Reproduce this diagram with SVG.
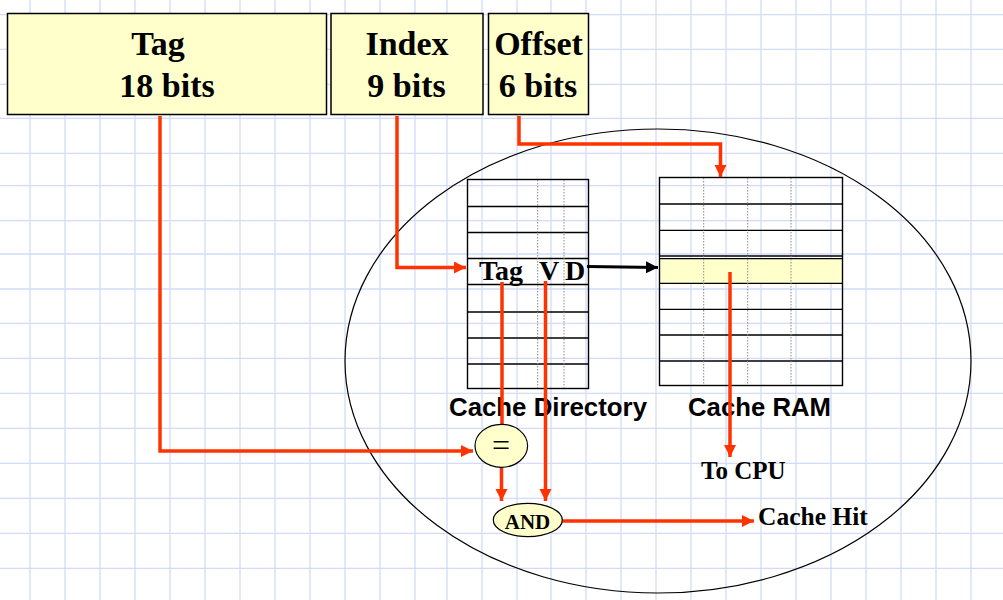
<svg xmlns="http://www.w3.org/2000/svg" width="1003" height="600" viewBox="0 0 1003 600">
<style>
.grid{stroke:#d3dcf6;stroke-width:1.3;fill:none}
.box{fill:#ffffcc;stroke:#000;stroke-width:1.5}
.big{font-family:"Liberation Serif","Times New Roman",serif;font-weight:bold;font-size:34px;text-anchor:middle;fill:#000}
.ser{font-family:"Liberation Serif","Times New Roman",serif;font-weight:bold;fill:#000}
.sans{font-family:"Liberation Sans",Arial,sans-serif;font-weight:bold;font-size:26px;fill:#000}
.tbl{fill:none;stroke:#000;stroke-width:1.4}
.row{stroke:#000;stroke-width:1.3}
.dot{stroke:#888;stroke-width:1;stroke-dasharray:1.5 1.5}
.red{fill:none;stroke:#ff3300;stroke-width:3.5}
.blk{fill:none;stroke:#000;stroke-width:3.2}
.op{fill:#ffffcc;stroke:#000;stroke-width:1.2}
</style>
<defs>
<marker id="ar" markerUnits="userSpaceOnUse" markerWidth="13" markerHeight="13" refX="12" refY="6" orient="auto"><path d="M0,0 L12,6 L0,12 z" fill="#ff3300"/></marker>
<marker id="ab" markerUnits="userSpaceOnUse" markerWidth="13" markerHeight="13" refX="12" refY="6" orient="auto"><path d="M0,0 L12,6 L0,12 z" fill="#000"/></marker>
</defs>
<rect width="1003" height="600" fill="#fff"/>
<path class="grid" d="M30,0V600M65,0V600M100,0V600M135,0V600M170,0V600M205,0V600M240,0V600M275,0V600M310,0V600M345,0V600M380,0V600M415,0V600M447,0V600M482,0V600M517,0V600M551,0V600M586,0V600M621,0V600M656,0V600M691,0V600M726,0V600M761,0V600M796,0V600M831,0V600M866,0V600M901,0V600M936,0V600M971,0V600
M0,14.7H1003M0,49.3H1003M0,84.3H1003M0,118.3H1003M0,153.3H1003M0,185.7H1003M0,220.7H1003M0,254H1003M0,289H1003M0,323.3H1003M0,358.3H1003M0,393.3H1003M0,428.3H1003M0,463.3H1003M0,498.3H1003M0,533.3H1003M0,568.3H1003"/>

<g id="tag-field">
<rect class="box" x="7.5" y="13.5" width="319" height="101"/>
<text class="big" x="158" y="55">Tag</text>
<text class="big" x="167" y="97">18 bits</text>
</g>
<g id="index-field">
<rect class="box" x="331" y="13.5" width="152" height="101"/>
<text class="big" x="407" y="55">Index</text>
<text class="big" x="406.5" y="97">9 bits</text>
</g>
<g id="offset-field">
<rect class="box" x="488.5" y="13.5" width="100" height="101"/>
<text class="big" x="538.5" y="55">Offset</text>
<text class="big" x="538" y="97">6 bits</text>
</g>

<g id="cache-boundary">
<ellipse cx="658" cy="361" rx="313" ry="232" fill="none" stroke="#000" stroke-width="1.2"/>
</g>

<g id="cache-directory">
<rect class="tbl" x="467.5" y="179.5" width="121" height="209"/>
<path class="row" d="M467.5,206.5H588.5M467.5,232.5H588.5M467.5,258.5H588.5M467.5,284.5H588.5M467.5,312H588.5M467.5,338H588.5M467.5,364H588.5"/>
<path class="dot" d="M537.7,180V388M564,180V388"/>
<text class="ser" font-size="28" x="479" y="280">Tag</text>
<text class="ser" font-size="28" x="539" y="280">V</text>
<text class="ser" font-size="28" x="565" y="280">D</text>
<text class="sans" x="449" y="416" textLength="198" lengthAdjust="spacingAndGlyphs">Cache Directory</text>
</g>

<g id="cache-ram">
<rect x="659.5" y="258.7" width="183" height="24.6" fill="#ffffcc"/>
<rect class="tbl" x="659.5" y="177.5" width="183" height="208"/>
<path class="row" d="M659.5,204H842.5M659.5,230.3H842.5M659.5,256H842.5M659.5,258.7H842.5M659.5,283.3H842.5M659.5,309.3H842.5M659.5,335H842.5M659.5,361H842.5"/>
<path class="dot" d="M703.7,178V385M747.7,178V385M791,178V385"/>
<text class="sans" x="688" y="416" textLength="143" lengthAdjust="spacingAndGlyphs">Cache RAM</text>
</g>

<g id="to-cpu"><text class="ser" font-size="25" x="701" y="479">To CPU</text></g>
<g id="cache-hit"><text class="ser" font-size="25.5" x="758" y="525">Cache Hit</text></g>

<g id="connectors">
<path class="red" d="M160,116V451H473" marker-end="url(#ar)"/>
<path class="red" d="M397,116V267.5H466" marker-end="url(#ar)"/>
<path class="red" d="M519,116V144H720.5V177" marker-end="url(#ar)"/>
<path class="red" d="M502,282V424"/>
<path class="red" d="M545.5,281V501" marker-end="url(#ar)"/>
<path class="red" d="M501.5,467V501" marker-end="url(#ar)"/>
<path class="red" d="M562,521H754" marker-end="url(#ar)"/>
<path class="red" d="M730,272V457" marker-end="url(#ar)"/>
<path class="blk" d="M587,266.5L658,267.5" marker-end="url(#ab)"/>
</g>

<g id="compare">
<ellipse class="op" cx="501.3" cy="445.8" rx="26.3" ry="21.5"/>
<text x="501" y="456" font-family="'Liberation Serif','Times New Roman',serif" font-size="32" text-anchor="middle">=</text>
</g>
<g id="and-gate">
<ellipse class="op" cx="527.8" cy="520" rx="34.5" ry="16.7"/>
<text class="ser" font-size="21" x="527.5" y="528.5" text-anchor="middle">AND</text>
</g>
</svg>
